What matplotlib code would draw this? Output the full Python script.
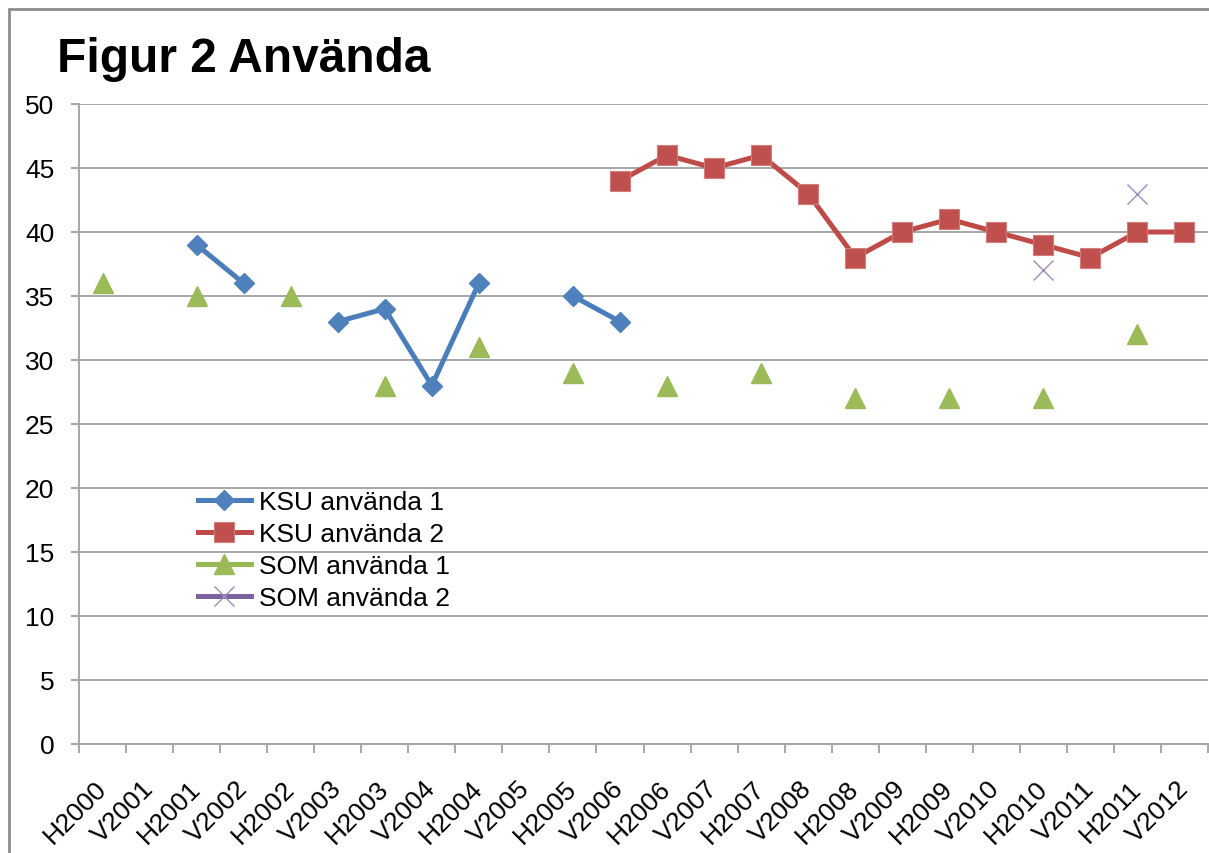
import numpy as np
import matplotlib
matplotlib.use('Agg')
import matplotlib.pyplot as plt
from matplotlib.patches import Rectangle

# Data (NaN = no value for that half-year)
nan = np.nan
periods = ["H2000", "V2001", "H2001", "V2002", "H2002", "V2003", "H2003", "V2004",
           "H2004", "V2005", "H2005", "V2006", "H2006", "V2007", "H2007", "V2008",
           "H2008", "V2009", "H2009", "V2010", "H2010", "V2011", "H2011", "V2012"]
ksu_1 = [nan, nan, 39, 36, nan, 33, 34, 28, 36, nan, 35, 33,
         nan, nan, nan, nan, nan, nan, nan, nan, nan, nan, nan, nan]
ksu_2 = [nan, nan, nan, nan, nan, nan, nan, nan, nan, nan, nan, 44,
         46, 45, 46, 43, 38, 40, 41, 40, 39, 38, 40, 40]
som_1 = [36, nan, 35, nan, 35, nan, 28, nan, 31, nan, 29, nan,
         28, nan, 29, nan, 27, nan, 27, nan, 27, nan, 32, nan]
som_2 = [nan, nan, nan, nan, nan, nan, nan, nan, nan, nan, nan, nan,
         nan, nan, nan, nan, nan, nan, nan, nan, 37, nan, 43, nan]
y_ticks = list(range(0, 51, 5))

plt.rcParams['font.family'] = ['Liberation Sans', 'DejaVu Sans']

fig = plt.figure(figsize=(12.09, 8.54), dpi=100)
W, H = 1209.0, 854.0
ax = fig.add_axes([79 / W, 1 - 745 / H, (1208 - 79) / W, (745 - 105) / H])

# Outer chart border (only top and left visible in the reference)
fig.add_artist(Rectangle((9 / W, -0.1), 1.2, 1.1 - 10 / H, transform=fig.transFigure,
                         fill=False, edgecolor='#8c8c8c', linewidth=2))

x = np.arange(len(periods))
grid_col = '#a6a6a6'

ax.plot(x, ksu_1, color='#4a7ebb', linewidth=3.6, marker='D', markersize=10.5,
        markerfacecolor='#4f81bd', markeredgecolor='#4f81bd', label='KSU använda 1')
ax.plot(x, ksu_2, color='#be4b48', linewidth=3.6, marker='s', markersize=14.5,
        markerfacecolor='#c0504d', markeredgecolor='#d07d7b', markeredgewidth=0.8,
        label='KSU använda 2')
ax.plot(x, som_1, color='#98b954', linewidth=3.6, marker='^', markersize=15,
        markerfacecolor='#9bbb59', markeredgecolor='#9bbb59', label='SOM använda 1')
ax.plot(x, som_2, color='#7d60a0', linewidth=3.6, marker='x', markersize=15,
        markeredgecolor='#9f8bbd', markeredgewidth=1.0, label='SOM använda 2')

ax.set_xlim(-0.5, len(periods) - 0.5)
ax.set_ylim(0, 50)
ax.set_yticks(y_ticks)
ax.yaxis.grid(True, color=grid_col, linewidth=1.4)
ax.set_axisbelow(True)

for side in ['top', 'right']:
    ax.spines[side].set_visible(False)
for side in ['left', 'bottom']:
    ax.spines[side].set_color(grid_col)
    ax.spines[side].set_linewidth(1.4)

ax.set_xticks(x)
ax.set_xticks(np.arange(len(periods) + 1) - 0.5, minor=True)
ax.set_xticklabels(periods)
ax.tick_params(axis='x', which='major', length=0, pad=29, labelsize=19)
ax.tick_params(axis='x', which='minor', length=6.5, width=1.4, color=grid_col)
ax.tick_params(axis='y', length=5.8, width=1.4, color=grid_col, pad=12, labelsize=19)
plt.setp(ax.get_xticklabels(), rotation=45, ha='right', va='center',
         rotation_mode='anchor')

fig.text(57 / W, 1 - 72 / H, 'Figur 2 Använda', fontsize=34.5, fontweight='bold',
         va='baseline', ha='left')

ax.legend(loc='upper left', bbox_to_anchor=(198 / W, 1 - 491 / H),
          bbox_transform=fig.transFigure, frameon=False, fontsize=19,
          borderpad=0, borderaxespad=0, handlelength=2.0, handletextpad=0.3,
          labelspacing=0.3)

fig.savefig('out.png', dpi=100)
